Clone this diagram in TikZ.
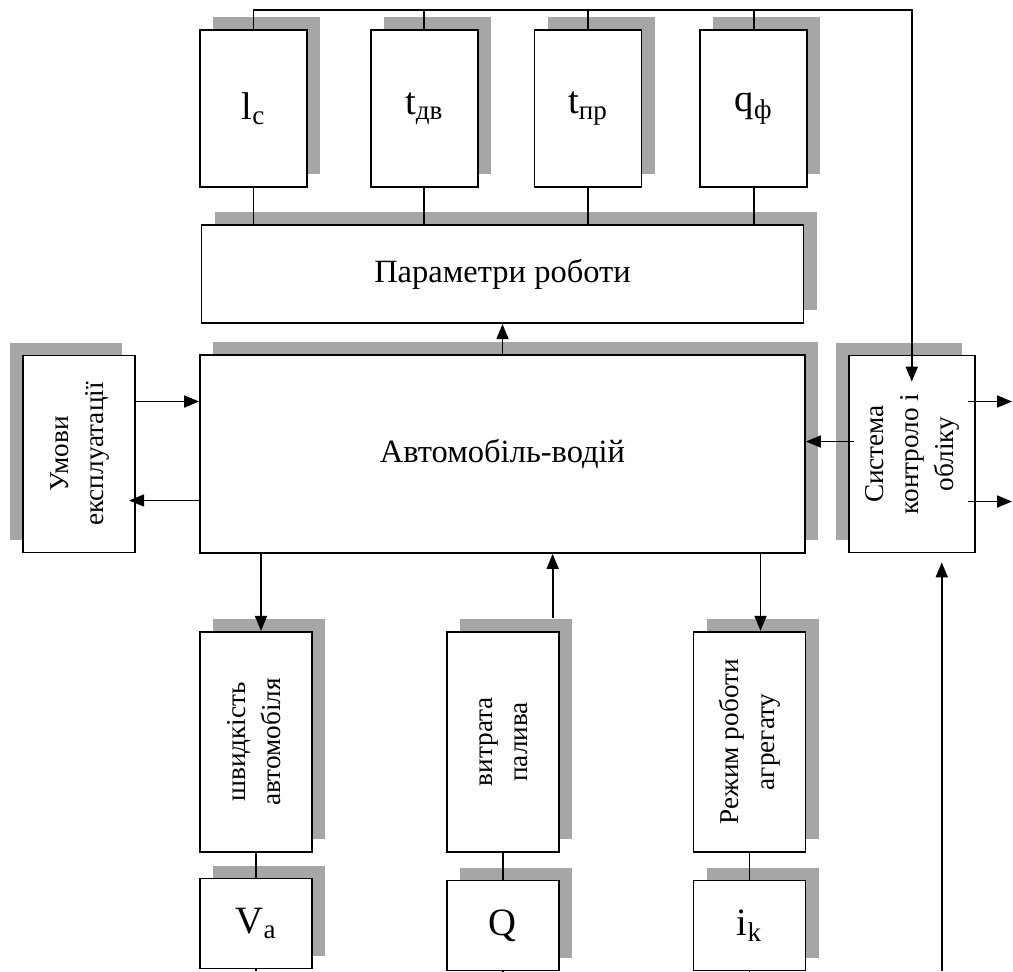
\documentclass[tikz,border=0pt]{standalone}
\usepackage{fontspec}
\setmainfont{Liberation Serif}
\usepackage{graphicx}
\usetikzlibrary{shapes.geometric, arrows.meta, positioning, calc, shadows}
\newcommand{\vtext}[1]{\rotatebox{90}{\fontsize{15.5}{20}\selectfont\begin{tabular}{@{}c@{}}#1\end{tabular}}}

\begin{document}
\begin{tikzpicture}[node distance=1.2cm]
        \tikzstyle{base} = [rectangle, draw=black, line width=1pt, fill=white, inner sep=0pt, align=center]
        \tikzstyle{box} = [base, general shadow={fill=black!35, shadow xshift=0.26cm, shadow yshift=0.26cm}]
        \tikzstyle{lbox} = [base, general shadow={fill=black!35, shadow xshift=-0.26cm, shadow yshift=0.26cm}]
        \tikzstyle{param} = [box, minimum width=2.14cm, minimum height=3.14cm, font=\fontsize{22}{26}\selectfont]
        \tikzstyle{wide} = [box, minimum width=12.04cm, font=\fontsize{18.5}{22}\selectfont]
        \tikzstyle{side} = [lbox, minimum height=3.94cm]
        \tikzstyle{outp} = [box, minimum width=2.24cm, minimum height=4.4cm]
        \tikzstyle{meter} = [box, minimum width=2.24cm, minimum height=1.8cm, font=\fontsize{22}{26}\selectfont]
        \tikzstyle{line} = [line width=1pt]
        \tikzstyle{arrow} = [line width=1pt, -{Triangle[length=0.3cm, width=0.24cm]}]

        \useasboundingbox (0,0) rectangle (20.26,-19.42);

        \node (lc) [param] at (5.07,-2.17) {l\textsubscript{c}};
        \node (tdv) [param, right=1.24cm of lc] {t\textsubscript{дв}};
        \node (tpr) [param, right=1.1cm of tdv] {t\textsubscript{пр}};
        \node (qf) [param, right=1.14cm of tpr] {q\textsubscript{ф}};

        \node (auto) [wide, minimum width=12.1cm, minimum height=3.96cm] at (10.05,-9.08) {Автомобіль-водій};
        \node (params) [wide, minimum height=1.96cm, above=0.6cm of auto] {Параметри роботи};
        \node (umovy) [side, minimum width=2.24cm, left=1.26cm of auto] {\vtext{Умови\\експлуатації}};
        \node (ctrl) [side, minimum width=2.52cm, right=0.84cm of auto] {\vtext{Система\\контроло і\\обліку}};

        \node (speed) [outp, below right=1.54cm and 0cm of auto.south west] {\vtext{швидкість\\автомобіля}};
        \node (fuel) [outp, right=2.66cm of speed] {\vtext{витрата\\палива}};
        \node (mode) [outp, right=2.66cm of fuel] {\vtext{Режим роботи\\агрегату}};
        \node (va) [meter, below=0.5cm of speed] {V\textsubscript{a}};
        \node (qq) [meter, below=0.54cm of fuel] {Q};
        \node (ik) [meter, below=0.54cm of mode] {i\textsubscript{k}};

        \coordinate (bar) at (0,-0.2);
        \coordinate (bottom) at (0,-19.42);
        \coordinate (edge) at (20.24,0);
        \coordinate (s1) at ($(speed.north)+(0.1,0)$);
        \coordinate (f1) at ($(fuel.north east)+(-0.14,0.26)$);
        \coordinate (m1) at ($(mode.north)+(0.22,0)$);
        \coordinate (o1) at ($(ctrl.east)+(-0.16,1.05)$);
        \coordinate (o2) at ($(ctrl.east)+(-0.16,-0.95)$);
        \coordinate (c1) at ($(ctrl.south)+(0.6,-0.18)$);

        \draw [arrow] (lc.north) |- (bar -| ctrl.north) -- ($(ctrl.north)+(0,-0.54)$);
        \foreach \n in {tdv, tpr, qf}
            \draw [line] (\n.north) -- (\n.north |- bar);
        \foreach \n in {lc, tdv, tpr, qf}
            \draw [line] (\n.south) -- (\n.south |- params.north);
        \draw [arrow] (auto) -- (params);

        \draw [arrow] ($(umovy.east)+(0,1.05)$) -- ($(auto.west)+(0,1.05)$);
        \draw [arrow] ($(auto.west)+(0,-0.93)$) -- ($(umovy.east)+(-0.14,-0.93)$);
        \draw [arrow] ($(ctrl.west)+(0.12,0.25)$) -- ($(auto.east)+(0,0.25)$);
        \draw [arrow] (o1) -- (o1 -| edge);
        \draw [arrow] (o2) -- (o2 -| edge);
        \draw [arrow] (c1 |- bottom) -- (c1);

        \draw [arrow] (s1 |- auto.south) -- (s1);
        \draw [arrow] (f1) -- (f1 |- auto.south);
        \draw [arrow] (m1 |- auto.south) -- (m1);
        \foreach \a/\b in {speed/va, fuel/qq, mode/ik}
            \draw [line] (\a) -- (\b);
        \foreach \n in {va, qq, ik}
            \draw [line] (\n.south) -- (\n.south |- bottom);
    \end{tikzpicture}
\end{document}
